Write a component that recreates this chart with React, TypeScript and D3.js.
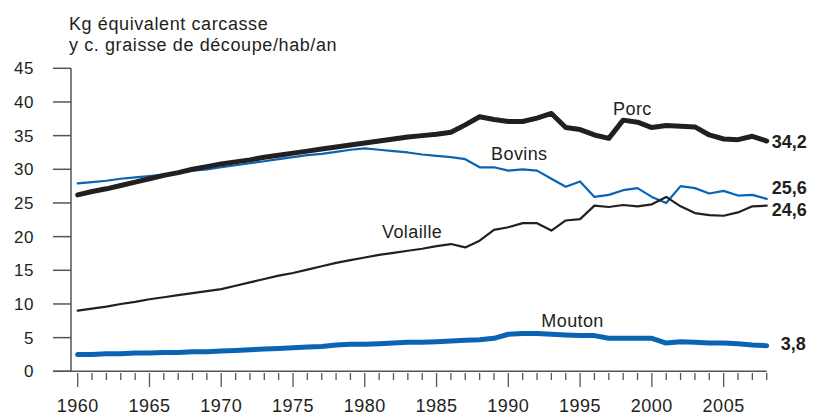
import React, { useRef, useEffect } from "react";
import * as d3 from "d3";

const years = d3.range(1960, 2009);

const porc = [
  26.2, 26.7, 27.1, 27.6, 28.1, 28.6, 29.1, 29.5, 30.0, 30.4,
  30.8, 31.1, 31.4, 31.8, 32.1, 32.4, 32.7, 33.0, 33.3, 33.6,
  33.9, 34.2, 34.5, 34.8, 35.0, 35.2, 35.5, 36.6, 37.8, 37.4,
  37.1, 37.1, 37.6, 38.3, 36.2, 35.9, 35.1, 34.6, 37.3, 37.0,
  36.2, 36.5, 36.4, 36.3, 35.1, 34.5, 34.4, 34.9, 34.2,
];

const bovins = [
  27.9, 28.1, 28.3, 28.6, 28.8, 29.0, 29.2, 29.5, 29.8, 30.0,
  30.3, 30.6, 30.9, 31.2, 31.5, 31.8, 32.1, 32.3, 32.6, 32.9,
  33.1, 32.9, 32.7, 32.5, 32.2, 32.0, 31.8, 31.5, 30.3, 30.3,
  29.8, 30.0, 29.8, 28.6, 27.4, 28.2, 25.9, 26.2, 26.9, 27.2,
  25.9, 25.0, 27.5, 27.2, 26.4, 26.8, 26.1, 26.2, 25.6,
];

const volaille = [
  9.0, 9.3, 9.6, 10.0, 10.3, 10.7, 11.0, 11.3, 11.6, 11.9,
  12.2, 12.7, 13.2, 13.7, 14.2, 14.6, 15.1, 15.6, 16.1, 16.5,
  16.9, 17.3, 17.6, 17.9, 18.2, 18.6, 18.9, 18.4, 19.4, 21.0,
  21.4, 22.0, 22.0, 20.9, 22.4, 22.6, 24.6, 24.4, 24.7, 24.5,
  24.8, 25.9, 24.5, 23.5, 23.2, 23.1, 23.6, 24.5, 24.6,
];

const mouton = [
  2.5, 2.5, 2.6, 2.6, 2.7, 2.7, 2.8, 2.8, 2.9, 2.9,
  3.0, 3.1, 3.2, 3.3, 3.4, 3.5, 3.6, 3.7, 3.9, 4.0,
  4.0, 4.1, 4.2, 4.3, 4.3, 4.4, 4.5, 4.6, 4.7, 4.9,
  5.5, 5.6, 5.6, 5.5, 5.4, 5.3, 5.3, 4.9, 4.9, 4.9,
  4.9, 4.2, 4.4, 4.3, 4.2, 4.2, 4.1, 3.9, 3.8,
];

const yTicks = [0, 5, 10, 15, 20, 25, 30, 35, 40, 45];
const xLabelYears = [1960, 1965, 1970, 1975, 1980, 1985, 1990, 1995, 2000, 2005];

const titleLines = ["Kg équivalent carcasse", "y c. graisse de découpe/hab/an"];

const BLUE = "#0a64b4";
const BLACK = "#231f20";
const FONT = "'Liberation Sans', Arial, sans-serif";

const series = [
  { name: "Porc", values: porc, color: BLACK, width: 5, labelAt: [1997.3, 38.1], end: "34,2", endDy: 7, endDx: 5 },
  { name: "Bovins", values: bovins, color: BLUE, width: 2.2, labelAt: [1988.8, 31.4], end: "25,6", endDy: -5, endDx: 5 },
  { name: "Volaille", values: volaille, color: BLACK, width: 2.2, labelAt: [1981.2, 19.8], end: "24,6", endDy: 10, endDx: 5 },
  { name: "Mouton", values: mouton, color: BLUE, width: 5, labelAt: [1992.3, 6.6], end: "3,8", endDy: 4, endDx: 14 },
];

export default function App() {
  const svgRef = useRef<SVGSVGElement>(null);

  useEffect(() => {
    const width = 814;
    const height = 416;
    const svg = d3.select(svgRef.current);
    svg.selectAll("*").remove();
    svg.attr("width", width).attr("height", height);

    const x = d3.scaleLinear().domain([1960, 2008]).range([77.7, 766.7]);
    const y = d3.scaleLinear().domain([0, 45]).range([371.3, 68.3]);

    // titre de l'axe
    svg.append("text")
      .attr("x", 69)
      .attr("y", 30)
      .attr("font-family", FONT)
      .attr("font-size", 18)
      .attr("letter-spacing", 0.6)
      .attr("fill", BLACK)
      .selectAll("tspan")
      .data(titleLines)
      .enter()
      .append("tspan")
      .attr("x", 69)
      .attr("dy", (_, i) => (i === 0 ? 0 : 21))
      .text((d) => d);

    const axisColor = "#555";

    // axe y
    svg.append("line")
      .attr("x1", 71).attr("x2", 71)
      .attr("y1", y(45)).attr("y2", y(0))
      .attr("stroke", axisColor).attr("stroke-width", 1.5);

    const yt = svg.append("g");
    yt.selectAll("line")
      .data(yTicks)
      .enter()
      .append("line")
      .attr("x1", 53).attr("x2", 71)
      .attr("y1", (d) => y(d)).attr("y2", (d) => y(d))
      .attr("stroke", axisColor).attr("stroke-width", 1.5);
    yt.selectAll("text")
      .data(yTicks)
      .enter()
      .append("text")
      .attr("x", 34)
      .attr("y", (d) => y(d))
      .attr("dy", "0.36em")
      .attr("text-anchor", "end")
      .attr("font-family", FONT)
      .attr("font-size", 17)
      .attr("letter-spacing", 0.5)
      .attr("fill", BLACK)
      .text((d) => d);

    // axe x
    svg.append("line")
      .attr("x1", 53).attr("x2", x(2008))
      .attr("y1", y(0)).attr("y2", y(0))
      .attr("stroke", axisColor).attr("stroke-width", 1.5);

    const xt = svg.append("g");
    xt.selectAll("line")
      .data(years)
      .enter()
      .append("line")
      .attr("x1", (d) => x(d)).attr("x2", (d) => x(d))
      .attr("y1", 373)
      .attr("y2", (d) => (d % 5 === 0 ? 387 : 380))
      .attr("stroke", axisColor).attr("stroke-width", 1.3);
    xt.selectAll("text")
      .data(xLabelYears)
      .enter()
      .append("text")
      .attr("x", (d) => x(d))
      .attr("y", 411.5)
      .attr("text-anchor", "middle")
      .attr("font-family", FONT)
      .attr("font-size", 18)
      .attr("letter-spacing", 0.5)
      .attr("fill", BLACK)
      .text((d) => d);

    // courbes
    const line = d3.line<number>()
      .x((_, i) => x(years[i]))
      .y((d) => y(d));

    const drawOrder = [series[1], series[2], series[3], series[0]];
    svg.selectAll("path.serie")
      .data(drawOrder)
      .enter()
      .append("path")
      .attr("class", "serie")
      .attr("d", (s) => line(s.values))
      .attr("fill", "none")
      .attr("stroke", (s) => s.color)
      .attr("stroke-width", (s) => s.width)
      .attr("stroke-linejoin", "round")
      .attr("stroke-linecap", "round");

    // étiquettes des séries
    svg.selectAll("text.nom")
      .data(series)
      .enter()
      .append("text")
      .attr("class", "nom")
      .attr("x", (s) => x(s.labelAt[0]))
      .attr("y", (s) => y(s.labelAt[1]))
      .attr("font-family", FONT)
      .attr("font-size", 18)
      .attr("letter-spacing", 0.4)
      .attr("fill", BLACK)
      .text((s) => s.name);

    // valeurs finales
    svg.selectAll("text.fin")
      .data(series)
      .enter()
      .append("text")
      .attr("class", "fin")
      .attr("x", (s) => x(2008) + s.endDx)
      .attr("y", (s) => y(s.values[s.values.length - 1]) + s.endDy)
      .attr("font-family", FONT)
      .attr("font-size", 18)
      .attr("font-weight", "bold")
      .attr("fill", BLACK)
      .text((s) => s.end);
  }, []);

  return (
    <svg
      ref={svgRef}
      style={{ position: "absolute", left: 0, top: 0, background: "#fff" }}
    ></svg>
  );
}
